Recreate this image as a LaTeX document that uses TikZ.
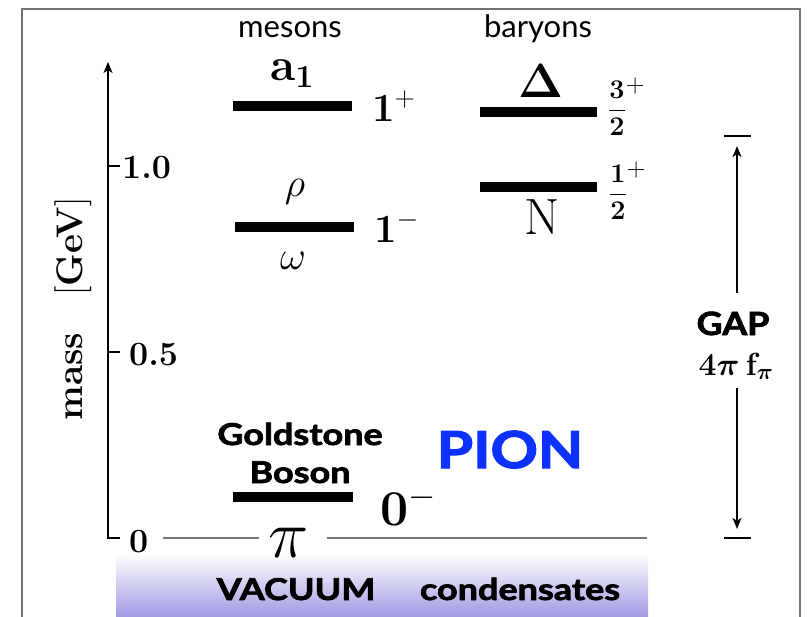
\documentclass[tikz,border=0pt]{standalone}
\usepackage{fix-cm}
\usepackage{amsmath}
\usepackage{graphicx}
\usepackage[no-math]{fontspec}
\newfontfamily\gill{Lato}[BoldFeatures={FakeBold=2.2}]
\usetikzlibrary{arrows.meta}
\definecolor{pionblue}{RGB}{13,50,255}
\definecolor{vac}{RGB}{160,154,226}
\definecolor{framegray}{RGB}{115,115,115}
\definecolor{linegray}{RGB}{120,120,120}
\newcommand{\wide}[2]{\scalebox{#1}[1]{#2}}
\newcommand{\spinfrac}[2]{{\fontsize{27}{27}\selectfont$\dfrac{\textbf{#1}}{\textbf{#2}}$}\raisebox{24pt}{\fontsize{26}{26}\selectfont$+$}}
\tikzset{
  lev/.style={fill=black, inner sep=0pt, minimum height=10pt, minimum width=119pt},
  fs/.style={font=\fontsize{#1}{#1}\selectfont},
  lab/.style={inner sep=0pt, anchor=base},
  labw/.style={inner sep=0pt, anchor=base west},
  tip/.style={-{Stealth[length=11pt,width=9pt,inset=3pt]}},
  gapbar/.style={fill=black, inner sep=0pt, minimum width=27pt, minimum height=1.8pt},
  vacline/.style={linegray, line width=1.4pt},
}
\begin{document}
\begin{tikzpicture}[x=1pt,y=-1pt]
\useasboundingbox (0,0) rectangle (808,617);
% frame
\draw[framegray, line width=1.3pt] (22,617) -- (22,9) -- (800,9) -- (800,617);
% vacuum band
\shade[top color=white, bottom color=vac] (116,554) rectangle (648,617);
\node[lab, fs=30] (vacuum) at (296,600) {\wide{1.2}{\gill\bfseries VACUUM}};
\node[lab, fs=30] (cond) at (520,600) {\wide{1.2}{\gill\bfseries condensates}};
% vacuum line
\coordinate (vl) at (163,538);
\coordinate (v1) at (259,538);
\coordinate (v2) at (327,538);
\coordinate (vr) at (647,538);
\draw[vacline] (vl) -- (v1);
\draw[vacline] (v2) -- (vr);
% axis
\coordinate (ax0) at (108,538);
\coordinate (axe) at (120,538);
\coordinate (axtop) at (108,62);
\draw[line width=1.8pt, tip] (axe) -- (ax0) -- (axtop);
\coordinate (t1a) at (108,166); \coordinate (t1b) at (120,166);
\coordinate (t5a) at (108,352); \coordinate (t5b) at (120,352);
\draw[line width=1.8pt] (t1a) -- (t1b);
\draw[line width=1.8pt] (t5a) -- (t5b);
\node[labw, fs=34] (l10) at (122,179) {\bfseries 1.0};
\node[labw, fs=34] (l05) at (129,365) {\bfseries 0.5};
\node[labw, fs=34] (l0) at (129,552) {\bfseries 0};
\node[lab, fs=37, rotate=90] (mass) at (82,309) {\textbf{mass}\quad[\textbf{GeV}]};
% headers
\node[lab, fs=31] (mes) at (290,38) {\gill mesons};
\node[lab, fs=31] (bar) at (538,38) {\gill baryons};
% levels
\node[lev] (a1) at (292,106) {};
\node[lev] (rho) at (294,227) {};
\node[lev, minimum width=117pt] (del) at (538,112) {};
\node[lev, minimum width=117pt] (nuc) at (538,187) {};
\node[lev, minimum width=120pt] (pi) at (293,497) {};
% meson labels
\node[lab, fs=46] (a1l) at (292,81) {$\textbf{a}_{\textbf{1}}$};
\node[labw, fs=40] (a1j) at (372,122) {$\textbf{1}^{+}$};
\node[lab, fs=40] (rhol) at (295,197) {$\rho$};
\node[lab, fs=40] (oml) at (293,270) {$\omega$};
\node[labw, fs=40] (rhoj) at (374,243) {$\textbf{1}^{-}$};
% baryon labels
\node[lab, fs=48] (dell) at (541,98) {$\mathbf{\Delta}$};
\node[lab, fs=51] (nucl) at (542,235) {$\mathrm{N}$};
\node[labw] (delj) at (608,117) {\spinfrac{3}{2}};
\node[labw] (nucj) at (609,201) {\spinfrac{1}{2}};
% pion
\node[lab, fs=30] (gold) at (300,445) {\wide{1.2}{\gill\bfseries Goldstone}};
\node[lab, fs=30] (boson) at (300,483) {\wide{1.2}{\gill\bfseries Boson}};
\node[labw, fs=50] (pij) at (380,525) {$\mathbf{0}^{-}$};
\node[lab, fs=68] (pil) at (289,557) {$\pi$};
\node[lab, fs=51, text=pionblue] (pion) at (510,468) {\wide{1.15}{\gill\bfseries PION}};
% gap
\node[gapbar] (gtop) at (737,136) {};
\node[gapbar] (gbot) at (737,538) {};
\node[lab, fs=32] (gapt) at (733,335) {\wide{1.12}{\gill\bfseries GAP}};
\node[lab, fs=32] (gapf) at (736,375) {{\boldmath$4\pi\,\mathrm{f}_{\pi}$}};
\coordinate (gu) at (737,293);
\coordinate (gd) at (737,388);
\draw[line width=1.5pt, tip, shorten >=9pt] (gu) -- (gtop);
\draw[line width=1.5pt, tip, shorten >=8pt] (gd) -- (gbot);
\end{tikzpicture}
\end{document}
